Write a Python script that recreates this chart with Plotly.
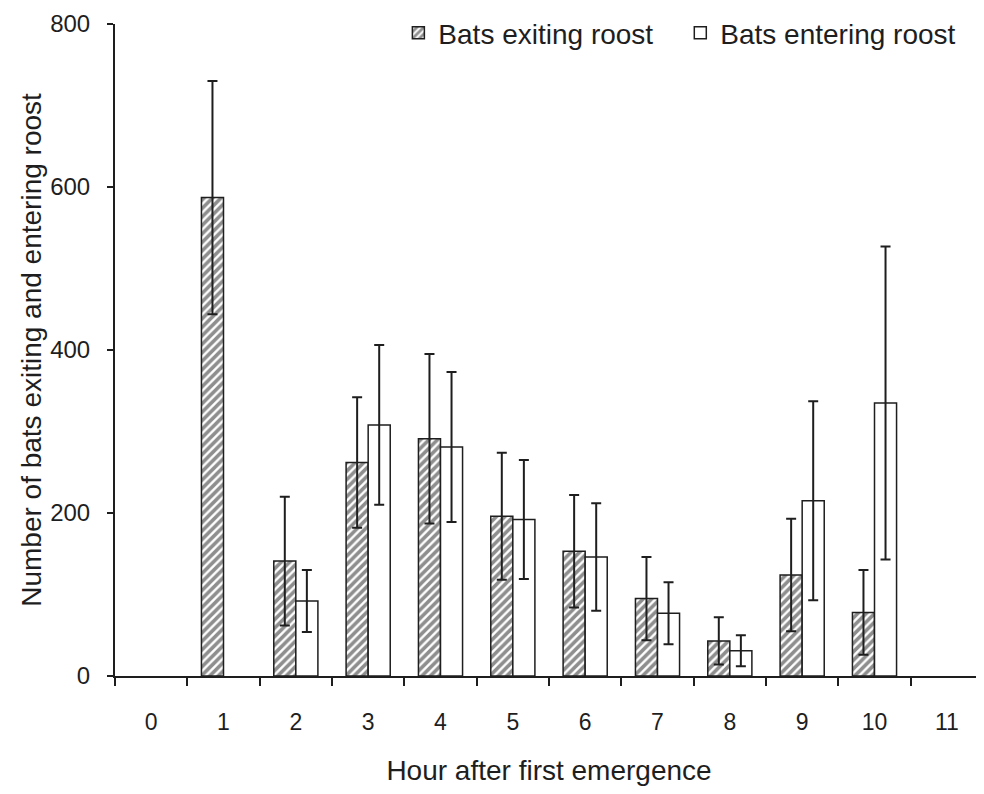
import plotly.graph_objects as go

hours = ["0", "1", "2", "3", "4", "5", "6", "7", "8", "9", "10", "11"]
exiting = [None, 587, 141, 262, 291, 196, 153, 95, 43, 124, 78, None]
exiting_err = [None, 143, 79, 80, 104, 78, 69, 51, 29, 69, 52, None]
entering = [None, None, 92, 308, 281, 192, 146, 77, 31, 215, 335, None]
entering_err = [None, None, 38, 98, 92, 73, 66, 38, 19, 122, 192, None]

y_ticks = [0, 200, 400, 600, 800]

FONT = "Liberation Sans, Arial, sans-serif"
INK = "#1e1e1e"

fig = go.Figure()
fig.add_trace(go.Bar(
    x=hours, y=exiting, name="Bats exiting roost", legend="legend",
    marker=dict(color="white", line=dict(color=INK, width=1.5),
                pattern=dict(shape="/", fgcolor=INK, bgcolor="white", size=6, solidity=0.6)),
    error_y=dict(type="data", array=exiting_err, visible=True, color=INK, thickness=2, width=5),
))
fig.add_trace(go.Bar(
    x=hours, y=entering, name="Bats entering roost", legend="legend2",
    marker=dict(color="white", line=dict(color=INK, width=1.5)),
    error_y=dict(type="data", array=entering_err, visible=True, color=INK, thickness=2, width=5),
))

leg_common = dict(orientation="h", xanchor="right", yref="container", y=1.0, yanchor="top",
                  font=dict(size=28, family=FONT, color=INK), bgcolor="rgba(0,0,0,0)",
                  itemwidth=30)

fig.update_layout(
    width=976, height=778,
    margin=dict(l=107, r=1, t=16, b=110, autoexpand=False),
    paper_bgcolor="white", plot_bgcolor="white",
    barmode="group", bargap=0.39, bargroupgap=0,
    font=dict(family=FONT, color=INK),
    showlegend=True,
    legend=dict(x=0.626, **leg_common),
    legend2=dict(x=0.975, **leg_common),
)
fig.update_xaxes(
    type="category", categoryorder="array", categoryarray=hours,
    range=[-0.5, 11.5], tickson="boundaries",
    showline=True, linecolor=INK, linewidth=2,
    ticks="outside", ticklen=8, tickwidth=2, tickcolor=INK,
    ticklabelstandoff=24,
    tickfont=dict(size=23, family=FONT, color=INK),
    showgrid=False, zeroline=False,
    title=dict(text="Hour after first emergence", font=dict(size=28, family=FONT, color=INK), standoff=34),
)
fig.update_yaxes(
    range=[0, 800], tickvals=y_ticks, ticktext=[str(v) for v in y_ticks],
    showline=True, linecolor=INK, linewidth=2,
    ticks="outside", ticklen=6, tickwidth=2, tickcolor=INK,
    ticklabelstandoff=12,
    tickfont=dict(size=24, family=FONT, color=INK),
    showgrid=False, zeroline=False,
    title=dict(text="Number of bats exiting and entering roost", font=dict(size=28, family=FONT, color=INK), standoff=0),
)

fig.write_html("out.html")
